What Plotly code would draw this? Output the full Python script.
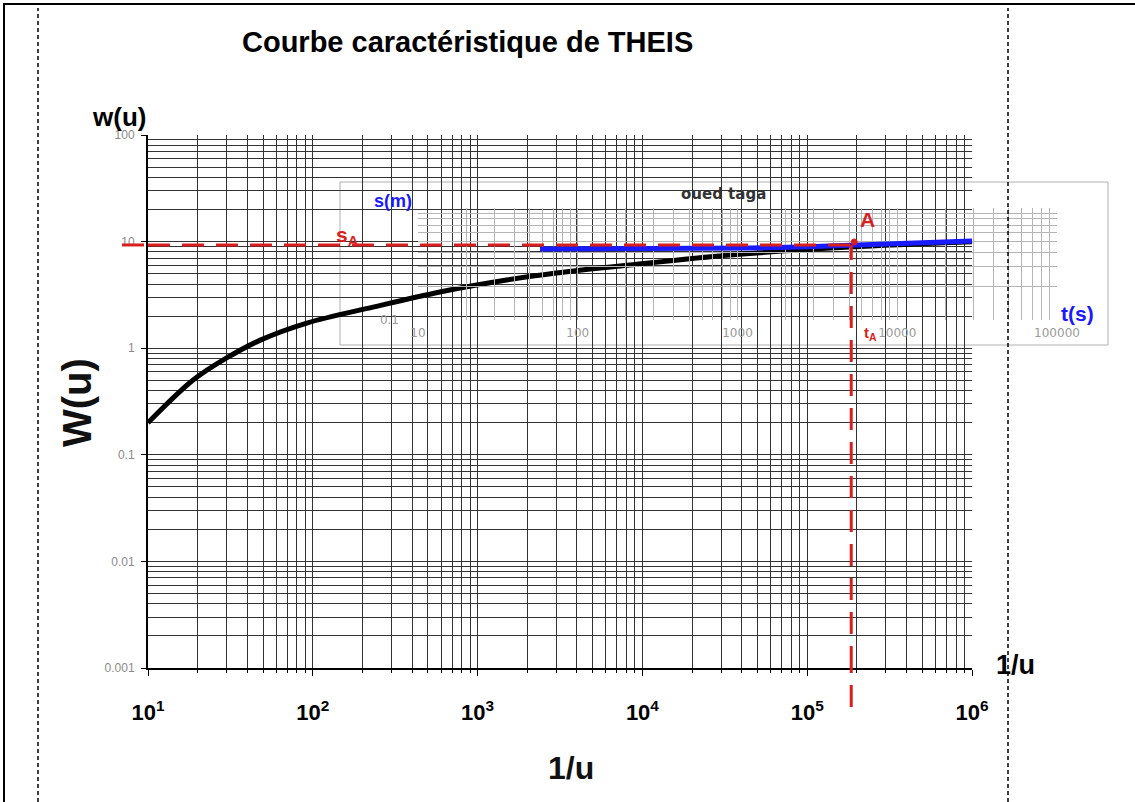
import plotly.graph_objects as go

W_PX, H_PX = 1135, 802

# ---------------- data ----------------
# Theis type curve (main axes): 1/u  vs  W(u)
inv_u = [10, 18.7, 30, 48, 92, 232, 590, 1500, 3000, 8400, 34000, 182000, 1000000]
w_u = [0.20, 0.50, 0.81, 1.19, 1.72, 2.43, 3.37, 4.36, 5.07, 6.03, 7.48, 8.89, 9.95]

# Field data "oued taga" (inset axes): t (s) vs s (m)
t_s = [58, 138, 300, 582, 1200, 2460, 5130, 10400, 18000, 29400]
s_m = [0.431, 0.431, 0.433, 0.435, 0.440, 0.449, 0.463, 0.477, 0.492, 0.507]

# Match point A (main axes)
A_inv_u = 185000
A_w = 9.3

main_x_ticks = [10, 100, 1000, 10000, 100000, 1000000]
main_x_labels = ["10<sup>1</sup>", "10<sup>2</sup>", "10<sup>3</sup>", "10<sup>4</sup>", "10<sup>5</sup>", "10<sup>6</sup>"]
main_y_ticks = [0.001, 0.01, 0.1, 1, 10, 100]
main_y_labels = ["0.001", "0.01", "0.1", "1", "10", "100"]
inset_x_ticks = [10, 100, 1000, 10000, 100000]
inset_x_labels = ["10", "100", "1000", "10000", "100000"]
inset_y_ticks = [0.1]
inset_y_labels = ["0.1"]


def px(x):
    return x / W_PX


def py(y):
    return 1 - y / H_PX


RED = "#d91e1e"
BLUE = "#1a1aff"
ARIAL = "Liberation Sans, Arial, sans-serif"

fig = go.Figure()

fig.add_trace(go.Scatter(
    x=inv_u, y=w_u, mode="lines", line=dict(color="black", width=5, shape="spline", smoothing=0.9),
    xaxis="x", yaxis="y", showlegend=False, hoverinfo="skip"))

fig.add_trace(go.Scatter(
    x=t_s, y=s_m, mode="lines", line=dict(color=BLUE, width=5),
    xaxis="x2", yaxis="y2", showlegend=False, hoverinfo="skip"))

grid_main = "#333333"
grid_inset = "#b5b5b5"

fig.update_layout(
    width=W_PX, height=H_PX,
    margin=dict(l=0, r=0, t=0, b=0, pad=0, autoexpand=False),
    paper_bgcolor="white", plot_bgcolor="rgba(0,0,0,0)",
    showlegend=False,
    xaxis=dict(
        type="log", range=[1, 6], domain=[px(148), px(972)], anchor="y", automargin=False,
        showgrid=True, gridcolor=grid_main, gridwidth=1.4, zeroline=False,
        tickvals=main_x_ticks, ticktext=main_x_labels,
        tickfont=dict(family=ARIAL, size=22, color="black", weight="bold"),
        ticks="outside", ticklen=6, tickcolor="black", ticklabelstandoff=18,
        showline=True, linecolor="black", linewidth=2,
        minor=dict(dtick="D1", showgrid=True, gridcolor=grid_main, gridwidth=1.2,
                   ticks="outside", ticklen=3, tickcolor="black"),
    ),
    yaxis=dict(
        type="log", range=[-3, 2], domain=[py(668), py(135)], anchor="x", automargin=False,
        showgrid=True, gridcolor=grid_main, gridwidth=1.4, zeroline=False,
        tickvals=main_y_ticks, ticktext=main_y_labels,
        tickfont=dict(family=ARIAL, size=12, color="#8a8a8a"),
        ticks="outside", ticklen=5, tickcolor="black", ticklabelstandoff=4,
        showline=True, linecolor="black", linewidth=2,
        minor=dict(dtick="D1", showgrid=True, gridcolor=grid_main, gridwidth=1.2),
    ),
    xaxis2=dict(
        type="log", range=[1, 5], domain=[px(418), px(1057)], anchor="y2", automargin=False,
        showgrid=True, gridcolor=grid_inset, gridwidth=1, zeroline=False,
        tickvals=inset_x_ticks, ticktext=inset_x_labels,
        tickfont=dict(family="DejaVu Sans", size=12, color="#9a9a9a"),
        ticks="", ticklabelstandoff=4, showline=False,
        minor=dict(dtick="D1", showgrid=True, gridcolor=grid_inset, gridwidth=1),
    ),
    yaxis2=dict(
        type="log", range=[-1, 0], domain=[py(320), py(208)], anchor="x2", automargin=False,
        showgrid=True, gridcolor=grid_inset, gridwidth=1, zeroline=False,
        tickvals=inset_y_ticks, ticktext=inset_y_labels,
        tickfont=dict(family="DejaVu Sans", size=12, color="#9a9a9a"),
        ticks="", ticklabelstandoff=18, showline=False,
        minor=dict(dtick="D1", showgrid=True, gridcolor=grid_inset, gridwidth=1),
    ),
)

shapes = []
# page frame (left + top) and dashed page guides
shapes.append(dict(type="line", xref="paper", yref="paper", x0=px(4), x1=px(4), y0=0, y1=py(4),
                   line=dict(color="black", width=2)))
shapes.append(dict(type="line", xref="paper", yref="paper", x0=px(3), x1=1, y0=py(4), y1=py(4),
                   line=dict(color="black", width=2)))
for gx in (38, 1008):
    shapes.append(dict(type="line", xref="paper", yref="paper", x0=px(gx), x1=px(gx), y0=0, y1=py(8),
                       line=dict(color="black", width=1.5, dash="4px,3px")))
# inset frame
shapes.append(dict(type="rect", xref="paper", yref="paper", x0=px(340), x1=px(1108), y0=py(345), y1=py(182),
                   line=dict(color="#b0b0b0", width=1), layer="below"))
# red dashed match lines through A
red_line = dict(color=RED, width=3, dash="22px,12px")
shapes.append(dict(type="line", xref="x", yref="y", x0=10, x1=A_inv_u, y0=A_w, y1=A_w,
                   line=red_line, layer="above"))
shapes.append(dict(type="line", xref="paper", yref="y", x0=px(122), x1=px(148), y0=A_w, y1=A_w,
                   line=red_line, layer="above"))
shapes.append(dict(type="line", xref="x", yref="y", x0=A_inv_u, x1=A_inv_u, y0=0.001, y1=A_w,
                   line=red_line, layer="above"))
shapes.append(dict(type="line", xref="x", yref="paper", x0=A_inv_u, x1=A_inv_u, y0=py(707), y1=py(668),
                   line=red_line, layer="above"))
# point A
shapes.append(dict(type="circle", xref="x", yref="y", xsizemode="pixel", ysizemode="pixel",
                   xanchor=A_inv_u, yanchor=A_w, x0=-6, x1=6, y0=-6, y1=6,
                   fillcolor=RED, line=dict(color=RED, width=1), layer="above"))
fig.update_layout(shapes=shapes)

ann = []


def add_text(x, y, text, size, color="black", family=ARIAL, bold=True, angle=0, xanchor="center"):
    ann.append(dict(x=px(x), y=py(y), xref="paper", yref="paper", text=text, showarrow=False,
                    xanchor=xanchor, yanchor="middle", textangle=angle,
                    font=dict(family=family, size=size, color=color, weight="bold" if bold else "normal")))


add_text(468, 42, "Courbe caractéristique de THEIS", 29)
add_text(119, 117, "w(u)", 26)
add_text(77, 403, "W(u)", 40, color="#111", angle=-90)
add_text(571, 768, "1/u", 32, color="#111")
add_text(1015, 665, "1/u", 27)
add_text(393, 201, "s(m)", 18, color=BLUE)
add_text(1077, 314, "t(s)", 21, color=BLUE)
add_text(723, 194, "oued taga", 15, color="#333", family="DejaVu Sans")
add_text(867, 219, "A", 21, color=RED)
add_text(347, 236, "s<sub>A</sub>", 21, color=RED)
add_text(871, 334, "t<sub>A</sub>", 15, color=RED)
fig.update_layout(annotations=ann)

fig.write_html("out.html", config={"displayModeBar": False},
               post_script="document.body.style.margin='0px';document.body.style.overflow='hidden';")
